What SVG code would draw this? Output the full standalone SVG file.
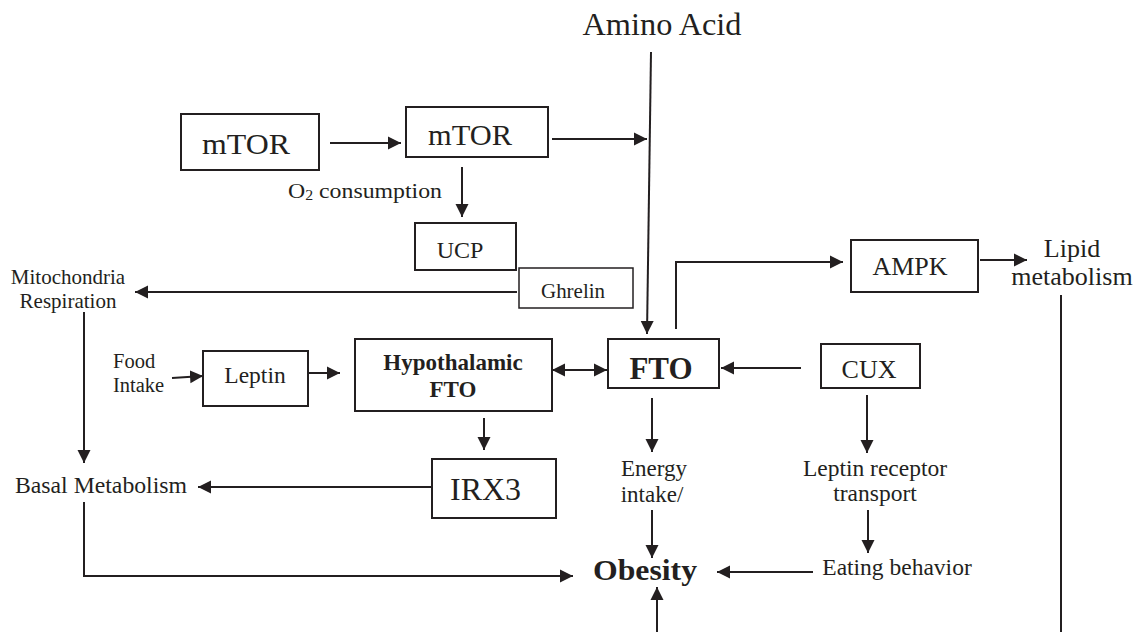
<svg xmlns="http://www.w3.org/2000/svg" width="1140" height="632" viewBox="0 0 1140 632">
<style>
  .box{fill:#fff;stroke:#231f20;stroke-width:2}
  .c{fill:none;stroke:#231f20;stroke-width:2}
  .a{marker-end:url(#ah)}
  text{font-family:"Liberation Serif","Times New Roman",serif;fill:#231f20}
  .m{text-anchor:middle}
  .b{font-weight:bold}
</style>
<defs>
  <marker id="ah" markerUnits="userSpaceOnUse" markerWidth="14" markerHeight="14" refX="13" refY="7" orient="auto-start-reverse">
    <path d="M0,0.5 L13,7 L0,13.5 z" fill="#231f20"/>
  </marker>
</defs>
<rect width="1140" height="632" fill="#fff"/>

<g id="connectors">
  <line class="c a" x1="330" y1="143" x2="401" y2="143"/>
  <line class="c a" x1="552" y1="139" x2="647" y2="139"/>
  <line class="c a" x1="462" y1="167" x2="462" y2="217"/>
  <line class="c a" x1="651" y1="52" x2="647" y2="334"/>
  <line class="c a" x1="517" y1="292" x2="135" y2="292"/>
  <line class="c a" x1="84" y1="312" x2="84" y2="463"/>
  <line class="c a" x1="172" y1="378" x2="203" y2="376"/>
  <line class="c a" x1="308" y1="373" x2="340" y2="373"/>
  <line class="c a" x1="552" y1="370" x2="607" y2="370" style="marker-start:url(#ah)"/>
  <path class="c a" d="M676,329 V262 H843"/>
  <line class="c a" x1="980" y1="260" x2="1027" y2="260"/>
  <line class="c a" x1="801" y1="368" x2="721" y2="368"/>
  <line class="c a" x1="867" y1="395" x2="867" y2="453"/>
  <line class="c a" x1="652" y1="398" x2="652" y2="452"/>
  <line class="c a" x1="484" y1="418" x2="484" y2="450"/>
  <line class="c a" x1="432" y1="487" x2="198" y2="487"/>
  <path class="c a" d="M84,502 V576 H573"/>
  <line class="c a" x1="652" y1="510" x2="652" y2="558"/>
  <line class="c a" x1="868" y1="510" x2="868" y2="553"/>
  <line class="c a" x1="813" y1="572" x2="717" y2="572"/>
  <line class="c a" x1="657" y1="632" x2="657" y2="587"/>
  <line class="c" x1="1061" y1="295" x2="1061" y2="632"/>
</g>

<g id="amino-acid"><text class="m" x="662" y="35" font-size="31" textLength="159" lengthAdjust="spacingAndGlyphs">Amino Acid</text></g>

<g id="mtor1"><rect class="box" x="181" y="114" width="138" height="56"/><text x="202" y="154" font-size="30" textLength="88" lengthAdjust="spacingAndGlyphs">mTOR</text></g>
<g id="mtor2"><rect class="box" x="406" y="107" width="142" height="50"/><text x="428" y="145" font-size="30" textLength="84" lengthAdjust="spacingAndGlyphs">mTOR</text></g>
<g id="o2"><text x="288" y="198" font-size="21" textLength="154" lengthAdjust="spacingAndGlyphs">O<tspan font-size="14" dy="2">2</tspan><tspan dy="-2"> consumption</tspan></text></g>
<g id="ucp"><rect class="box" x="415" y="223" width="101" height="47"/><text class="m" x="460" y="258" font-size="24">UCP</text></g>
<g id="ghrelin"><rect class="box" x="519" y="268" width="114" height="40" style="stroke-width:1.5"/><text x="541" y="298" font-size="21" textLength="64" lengthAdjust="spacingAndGlyphs">Ghrelin</text></g>
<g id="mito"><text class="m" x="68" y="284" font-size="21">Mitochondria</text><text class="m" x="68" y="308" font-size="21">Respiration</text></g>
<g id="food"><text x="113" y="368" font-size="20.5">Food</text><text x="113" y="392" font-size="20.5">Intake</text></g>
<g id="leptin"><rect class="box" x="203" y="351" width="105" height="55"/><text class="m" x="255" y="383" font-size="23.5">Leptin</text></g>
<g id="hypo-fto"><rect class="box" x="355" y="339" width="197" height="72"/><text class="m b" x="453" y="370" font-size="23">Hypothalamic</text><text class="m b" x="453" y="397" font-size="23">FTO</text></g>
<g id="fto"><rect class="box" x="608" y="339" width="111" height="49"/><text class="m b" x="661" y="379" font-size="31">FTO</text></g>
<g id="ampk"><rect class="box" x="851" y="240" width="127" height="52"/><text class="m" x="910" y="275" font-size="26">AMPK</text></g>
<g id="lipid"><text class="m" x="1072" y="257" font-size="26">Lipid</text><text class="m" x="1072" y="285" font-size="26">metabolism</text></g>
<g id="cux"><rect class="box" x="821" y="344" width="99" height="44"/><text class="m" x="869" y="378" font-size="26">CUX</text></g>
<g id="irx3"><rect class="box" x="432" y="459" width="124" height="59"/><text x="450" y="500" font-size="32" textLength="71" lengthAdjust="spacingAndGlyphs">IRX3</text></g>
<g id="basal"><text x="15" y="493" font-size="23.5" textLength="172" lengthAdjust="spacingAndGlyphs">Basal Metabolism</text></g>
<g id="energy"><text class="m" x="654" y="476" font-size="23">Energy</text><text class="m" x="652" y="502" font-size="23">intake/</text></g>
<g id="leptin-receptor"><text class="m" x="875" y="476" font-size="23.5">Leptin receptor</text><text class="m" x="875" y="501" font-size="23.5">transport</text></g>
<g id="eating"><text class="m" x="897" y="575" font-size="23.5">Eating behavior</text></g>
<g id="obesity"><text x="593" y="580" font-size="30" class="b" textLength="104" lengthAdjust="spacingAndGlyphs">Obesity</text></g>
</svg>
